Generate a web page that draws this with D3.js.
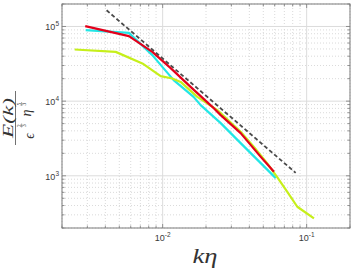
<!DOCTYPE html>
<html>
<head>
<meta charset="utf-8">
<script src="https://cdn.jsdelivr.net/npm/d3@7"></script>
<style>
  body { margin: 0; background: #fff; }
  svg { display: block; }
</style>
</head>
<body>
<svg></svg>
<script>
// spectra (k*eta, normalised E)
const cyanK = [0.00292, 0.00583, 0.00848, 0.01192, 0.0164, 0.01836, 0.0253, 0.0348, 0.048, 0.061];
const cyanE = [89200, 82100, 41300, 19100, 11420, 8840, 5080, 2740, 1480, 931];

const redK = [0.0029, 0.00583, 0.00848, 0.01137, 0.01563, 0.02213, 0.0253, 0.0348, 0.048, 0.0593];
const redE = [101000, 74100, 45700, 27650, 15530, 8390, 6500, 3730, 1795, 1132];

const greenK = [0.00245, 0.00472, 0.00723, 0.00969, 0.01168, 0.01334, 0.01741, 0.02399, 0.0348, 0.0429, 0.0533, 0.0626, 0.0734, 0.0861, 0.1124];
const greenE = [49200, 45700, 32000, 21600, 20100, 18100, 11420, 7580, 3880, 2445, 1466, 953, 611, 385, 269];

// -5/3 reference line end points
const refK = [0.00408, 0.0839];
const refE = [165000, 1096];

const xTicks = [0.01, 0.1];
const yTicks = [1e3, 1e4, 1e5];
const xTickExp = ["-2", "-1"];
const yTickExp = ["3", "4", "5"];

const width = 353,
      height = 270,
      margin = { top: 4, right: 3, bottom: 42, left: 62 };

const x = d3.scaleLog()
      .domain([0.002, 0.2])
      .range([margin.left, width - margin.right]);

const y = d3.scaleLog()
      .domain([200, 2e5])
      .range([height - margin.bottom, margin.top]);

const svg = d3.select("svg")
      .attr("width", width)
      .attr("height", height)
      .attr("viewBox", [0, 0, width, height]);

const x0 = margin.left, x1 = width - margin.right;
const y0 = height - margin.bottom, y1 = margin.top;

// minor positions 1..9 per decade
function logTicks(lo, hi) {
    const out = [];
    for (let e = Math.floor(Math.log10(lo)); e <= Math.ceil(Math.log10(hi)); e++) {
        for (let m = 1; m < 10; m++) {
            const v = m * Math.pow(10, e);
            if (v >= lo * 0.999 && v <= hi * 1.001) out.push({ v, major: m === 1 });
        }
    }
    return out;
}
const xAll = logTicks(0.002, 0.2);
const yAll = logTicks(200, 2e5);

const grid = svg.append("g");
grid.selectAll("line.gx")
    .data(xAll)
    .join("line")
    .attr("x1", d => x(d.v)).attr("x2", d => x(d.v))
    .attr("y1", y0).attr("y2", y1)
    .attr("stroke", d => d.major ? "#dcdcdc" : "#d0d0d0")
    .attr("stroke-width", d => d.major ? 1 : 0.8)
    .attr("stroke-dasharray", d => d.major ? null : "1,2");
grid.selectAll("line.gy")
    .data(yAll)
    .join("line")
    .attr("y1", d => y(d.v)).attr("y2", d => y(d.v))
    .attr("x1", x0).attr("x2", x1)
    .attr("stroke", d => d.major ? "#dcdcdc" : "#d0d0d0")
    .attr("stroke-width", d => d.major ? 1 : 0.8)
    .attr("stroke-dasharray", d => d.major ? null : "1,2");

const line = d3.line()
      .x(d => x(d[0]))
      .y(d => y(d[1]));

const series = [
    { k: cyanK, e: cyanE, color: "#22e6e6" },
    { k: greenK, e: greenE, color: "#c6ef1a" },
    { k: redK, e: redE, color: "#e3001b" }
];
series.forEach(s => {
    svg.append("path")
        .attr("fill", "none")
        .attr("stroke", s.color)
        .attr("stroke-width", 2.2)
        .attr("stroke-linejoin", "round")
        .attr("d", line(d3.zip(s.k, s.e)));
});

svg.append("path")
    .attr("fill", "none")
    .attr("stroke", "#4a4a4a")
    .attr("stroke-width", 1.8)
    .attr("stroke-dasharray", "4,2.5")
    .attr("d", line(d3.zip(refK, refE)));

// box and ticks
const axisColor = "#7a7a7a";
svg.append("rect")
    .attr("x", x0).attr("y", y1)
    .attr("width", x1 - x0).attr("height", y0 - y1)
    .attr("fill", "none")
    .attr("stroke", axisColor)
    .attr("stroke-width", 1);

const ticks = svg.append("g").attr("stroke", axisColor).attr("stroke-width", 0.8);
xAll.forEach(d => {
    const len = d.major ? 4 : 2.5;
    ticks.append("line").attr("x1", x(d.v)).attr("x2", x(d.v)).attr("y1", y0).attr("y2", y0 - len);
    ticks.append("line").attr("x1", x(d.v)).attr("x2", x(d.v)).attr("y1", y1).attr("y2", y1 + len);
});
yAll.forEach(d => {
    const len = d.major ? 4 : 2.5;
    ticks.append("line").attr("y1", y(d.v)).attr("y2", y(d.v)).attr("x1", x0).attr("x2", x0 + len);
    ticks.append("line").attr("y1", y(d.v)).attr("y2", y(d.v)).attr("x1", x1).attr("x2", x1 - len);
});

// tick labels
const tickFont = "Liberation Sans, Arial, sans-serif";
xTicks.forEach((v, i) => {
    const t = svg.append("text")
        .attr("x", x(v))
        .attr("y", 241)
        .attr("text-anchor", "middle")
        .attr("font-family", tickFont)
        .attr("font-size", 9)
        .attr("fill", "#3a3a3a");
    t.append("tspan").text("10");
    t.append("tspan").attr("dy", -4).attr("font-size", 6.5).text(xTickExp[i]);
});
yTicks.forEach((v, i) => {
    const t = svg.append("text")
        .attr("x", 59)
        .attr("y", y(v) + 4)
        .attr("text-anchor", "end")
        .attr("font-family", tickFont)
        .attr("font-size", 9)
        .attr("fill", "#3a3a3a");
    t.append("tspan").text("10");
    t.append("tspan").attr("dy", -4).attr("font-size", 6.5).text(yTickExp[i]);
});

// axis labels
const mathFont = "Liberation Serif, DejaVu Serif, serif";
svg.append("text")
    .attr("x", 205)
    .attr("y", 263)
    .attr("text-anchor", "middle")
    .attr("font-family", mathFont)
    .attr("font-style", "italic")
    .attr("font-size", 21)
    .attr("fill", "#333")
    .attr("textLength", 25)
    .attr("lengthAdjust", "spacingAndGlyphs")
    .text("kη");

const yl = svg.append("g")
    .attr("transform", "translate(15.5,118) rotate(-90)")
    .attr("fill", "#333")
    .attr("font-family", mathFont);
yl.append("text")
    .attr("x", 0).attr("y", -3)
    .attr("text-anchor", "middle")
    .attr("font-style", "italic")
    .attr("font-size", 15)
    .attr("textLength", 40)
    .attr("lengthAdjust", "spacingAndGlyphs")
    .text("E(k)");
yl.append("line")
    .attr("x1", -27).attr("x2", 27)
    .attr("y1", 0).attr("y2", 0)
    .attr("stroke", "#333")
    .attr("stroke-width", 0.7);
yl.append("text")
    .attr("x", -18).attr("y", 18)
    .attr("text-anchor", "middle")
    .attr("font-style", "italic")
    .attr("font-size", 14)
    .text("ϵ");
yl.append("text")
    .attr("x", 5).attr("y", 15)
    .attr("text-anchor", "middle")
    .attr("font-style", "italic")
    .attr("font-size", 14)
    .text("η");
[{ cx: -7.5, n: "2" }, { cx: 14, n: "5" }].forEach(f => {
    yl.append("text").attr("x", f.cx).attr("y", 5.3)
        .attr("text-anchor", "middle").attr("font-size", 5.5).text(f.n);
    yl.append("line")
        .attr("x1", f.cx - 2).attr("x2", f.cx + 2)
        .attr("y1", 6.1).attr("y2", 6.1)
        .attr("stroke", "#333").attr("stroke-width", 0.4);
    yl.append("text").attr("x", f.cx).attr("y", 10.5)
        .attr("text-anchor", "middle").attr("font-size", 5.5).text("3");
});
</script>
</body>
</html>
